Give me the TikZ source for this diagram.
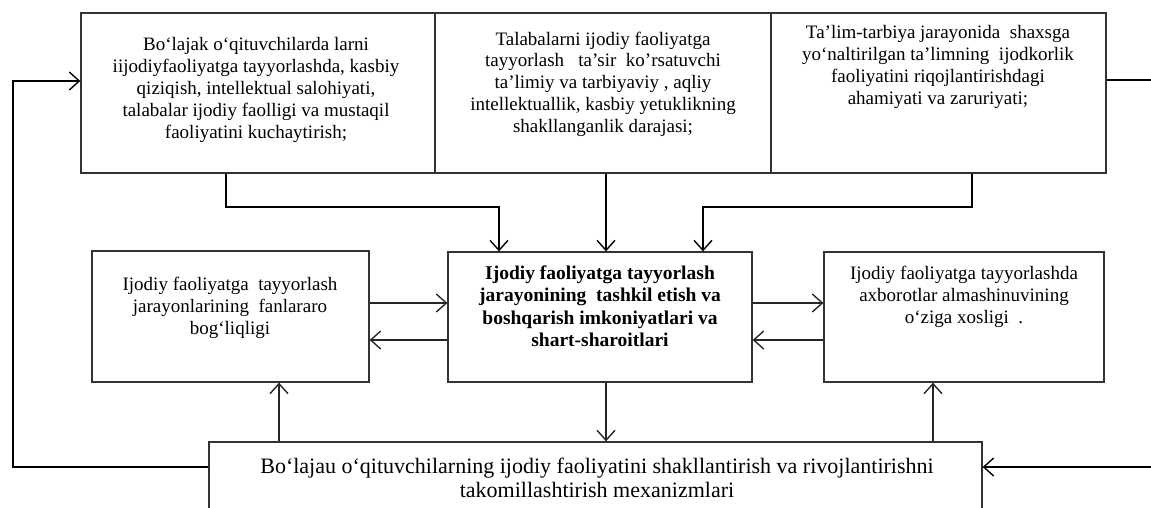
\documentclass[tikz,border=0pt]{standalone}
\usepackage{fontspec}
\setmainfont{Liberation Serif}
\usetikzlibrary{arrows.meta}
\begin{document}
\begin{tikzpicture}[x=1pt,y=-1pt,
 box/.style={draw=black!80, line width=1.3pt, inner sep=0pt},
 txt/.style={align=center, font=\fontsize{19}{21.8}\selectfont, text=black, inner sep=0pt},
 conn/.style={line width=2.2pt, black},
 link/.style={line width=1.5pt, black!85},
 tip/.style={-{Straight Barb[length=10pt,width=18pt,line width=1.4pt]}}
]
\useasboundingbox (0,0) rectangle (1151,507);
\clip (0,0) rectangle (1151,507);
\fill[white] (0,0) rectangle (1151,507);

% boxes
\node[box, minimum width=354pt, minimum height=160pt] (t1) at (258,93) {};
\node[box, minimum width=336pt, minimum height=160pt] (t2) at (603,93) {};
\node[box, minimum width=335pt, minimum height=160pt] (t3) at (938.5,93) {};
\node[box, minimum width=277pt, minimum height=131pt] (m1) at (230.5,316.5) {};
\node[box, minimum width=304pt, minimum height=130pt] (c) at (600,317) {};
\node[box, minimum width=280pt, minimum height=130pt] (m3) at (964,317) {};
\node[box, minimum width=773pt, minimum height=88pt] (bot) at (595.5,486) {};

% texts
\node[txt] (tt1) at (256,90) {Bo‘lajak o‘qituvchilarda larni\\iijodiyfaoliyatga tayyorlashda, kasbiy\\qiziqish, intellektual salohiyati,\\talabalar ijodiy faolligi va mustaqil\\faoliyatini kuchaytirish;};
\node[txt] (tt2) at (603,84) {Talabalarni ijodiy faoliyatga\\tayyorlash~~ ta’sir~ ko’rsatuvchi\\ta’limiy va tarbiyaviy , aqliy\\intellektuallik, kasbiy yetuklikning\\shakllanganlik darajasi;};
\node[txt] (tt3) at (938,67) {Ta’lim-tarbiya jarayonida~ shaxsga\\yo‘naltirilgan ta’limning~ ijodkorlik\\faoliyatini riqojlantirishdagi\\ahamiyati va zaruriyati;};
\node[txt] (tm1) at (230,308) {Ijodiy faoliyatga~ tayyorlash\\jarayonlarining~ fanlararo\\bog‘liqligi};
\node[txt, font=\fontsize{19.5}{22.5}\selectfont\bfseries] (tc) at (600,306) {Ijodiy faoliyatga tayyorlash\\jarayonining~ tashkil etish va\\boshqarish imkoniyatlari va\\shart-sharoitlari};
\node[txt] (tm3) at (964,297) {Ijodiy faoliyatga tayyorlashda\\axborotlar almashinuvining\\o‘ziga xosligi~ .};
\node[txt, font=\fontsize{22}{23.5}\selectfont] (tb) at (597,478) {Bo‘lajau o‘qituvchilarning ijodiy faoliyatini shakllantirish va rivojlantirishni\\takomillashtirish mexanizmlari};

% connectors from top row
\draw[conn,tip] (226,0 |- t1.south) -- (226,207) -- (499,207) -- (499,0 |- c.north);
\draw[conn,tip] (606,0 |- t2.south) -- (606,0 |- c.north);
\draw[conn,tip] (972,0 |- t3.south) -- (972,207) -- (703,207) -- (703,0 |- c.north);

% middle row links
\draw[link,tip] (m1.east |- 0,303) -- (c.west |- 0,303);
\draw[link,tip] (c.west |- 0,340) -- (m1.east |- 0,340);
\draw[link,tip] (c.east |- 0,303) -- (m3.west |- 0,303);
\draw[link,tip] (m3.west |- 0,340) -- (c.east |- 0,340);

% vertical links to/from bottom
\draw[link,tip] (606,0 |- c.south) -- (606,0 |- bot.north);
\draw[link,tip] (279,0 |- bot.north) -- (279,0 |- m1.south);
\draw[link,tip] (933,0 |- bot.north) -- (933,0 |- m3.south);

% outer loops
\coordinate (l1) at (13,467);
\coordinate (l2) at (13,81);
\draw[conn,tip] (bot.west |- l1) -- (l1) -- (l2) -- (t1.west |- l2);
\coordinate (r1) at (1151,80);
\draw[conn] (t3.east |- r1) -- (r1);
\coordinate (r2) at (1151,467);
\draw[conn,tip] (r2) -- (bot.east |- r2);
\end{tikzpicture}
\end{document}
